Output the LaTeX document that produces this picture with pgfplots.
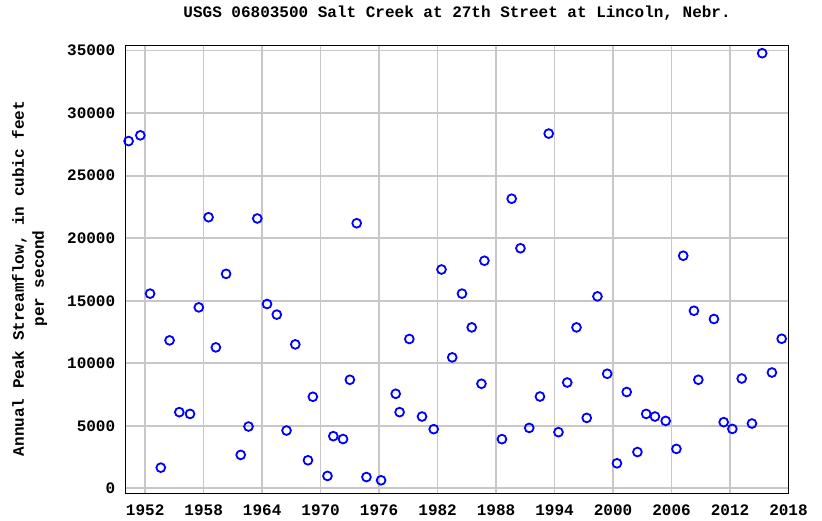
\documentclass[border=0pt]{standalone}
\usepackage{fontspec}
\setmainfont{Liberation Mono}
\usepackage{pgfplots}
\pgfplotsset{compat=1.18}
\definecolor{gridgray}{RGB}{200,200,200}
\definecolor{ptblue}{RGB}{0,0,255}
\begin{document}
\begin{tikzpicture}[font=\bfseries\fontsize{16}{20}\selectfont]
\useasboundingbox (-125.7pt,-27.7pt) rectangle (696.3pt,493.3pt);
\begin{axis}[
  scale only axis,
  width=662.8pt, height=447.6pt,
  xmin=1950, xmax=2018,
  ymin=-400, ymax=35400,
  xtick={1952,1958,1964,1970,1976,1982,1988,1994,2000,2006,2012,2018},
  ytick={0,5000,10000,15000,20000,25000,30000,35000},
  scaled y ticks=false,
  scaled x ticks=false,
  /pgf/number format/assume math mode=true,
  /pgf/number format/1000 sep={},
  major tick length=0pt,
  grid=major,
  major grid style={draw=gridgray, line width=1.6pt},
  axis line style={black, line width=1.2pt},
  tick label style={font=\bfseries\fontsize{16}{20}\selectfont},
  xticklabel style={anchor=base, yshift=-22pt},
  yticklabel style={anchor=east, xshift=-7pt},
  ylabel={Annual Peak Streamflow, in cubic feet\\per second},
  ylabel style={at={(axis description cs:-0.145,0.48)}, anchor=center, align=center, font=\bfseries\fontsize{16}{20}\selectfont},
  title={USGS 06803500 Salt Creek at 27th Street at Lincoln, Nebr.},
  title style={at={(0.5,1)}, anchor=base, yshift=22pt, font=\bfseries\fontsize{16}{20}\selectfont},
  clip=false,
]
\addplot[only marks, mark=o, mark size=4.4pt, draw=ptblue, line width=1.8pt] coordinates {
(1950.3,27770) (1951.5,28230) (1952.5,15570) (1953.6,1650) (1954.5,11830)
(1955.5,6090) (1956.6,5950) (1957.5,14470) (1958.5,21680) (1959.25,11270)
(1960.3,17150) (1961.8,2670) (1962.6,4940) (1963.5,21580) (1964.5,14740)
(1965.5,13890) (1966.5,4620) (1967.4,11510) (1968.7,2240) (1969.2,7320)
(1970.7,990) (1971.3,4170) (1972.3,3940) (1973.0,8680) (1973.7,21200)
(1974.7,900) (1976.2,640) (1977.7,7560) (1978.1,6090) (1979.1,11940)
(1980.4,5740) (1981.6,4730) (1982.4,17500) (1983.5,10470) (1984.5,15570)
(1985.5,12870) (1986.5,8360) (1986.8,18200) (1988.6,3930) (1989.6,23160)
(1990.5,19200) (1991.4,4830) (1992.5,7340) (1993.4,28370) (1994.4,4490)
(1995.3,8460) (1996.25,12870) (1997.3,5630) (1998.4,15350) (1999.4,9160)
(2000.4,2000) (2001.4,7700) (2002.5,2900) (2003.4,5950) (2004.3,5740)
(2005.4,5390) (2006.5,3150) (2007.2,18600) (2008.3,14200) (2008.75,8680)
(2010.35,13540) (2011.35,5290) (2012.24,4750) (2013.2,8780) (2014.25,5180)
(2015.3,34800) (2016.3,9260) (2017.3,11960)
};
\end{axis}
\end{tikzpicture}
\end{document}
